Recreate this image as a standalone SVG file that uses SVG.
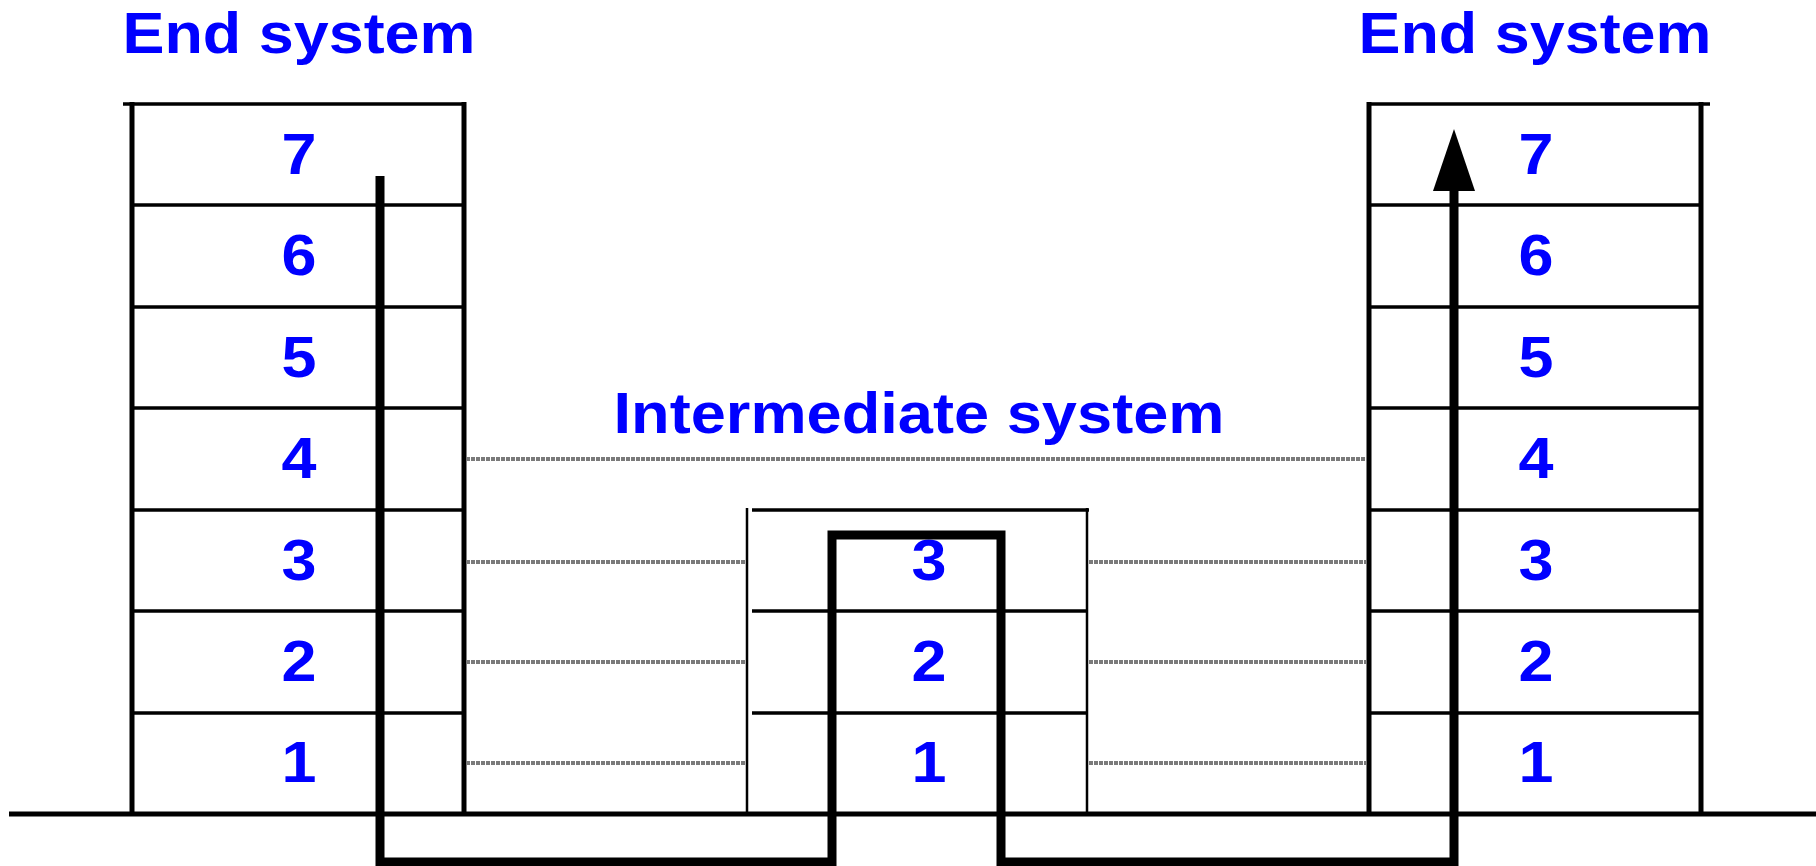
<svg xmlns="http://www.w3.org/2000/svg" width="1816" height="866" viewBox="0 0 1816 866">
  <style>
    .frame { stroke: #000; stroke-width: 5; fill: none; }
    .rule { stroke: #000; stroke-width: 3.5; fill: none; }
    .thin { stroke: #000; stroke-width: 2.5; fill: none; }
    .title { font-family: "Liberation Sans", Arial, sans-serif; font-weight: bold; font-size: 58px; fill: #0000ff; text-anchor: middle; }
    .num { font-family: "Liberation Sans", Arial, sans-serif; font-weight: bold; font-size: 57px; fill: #0000ff; text-anchor: middle; }
    .peer { stroke: #7a7a7a; stroke-width: 4; stroke-dasharray: 4 1; fill: none; }
    .path { stroke: #000; stroke-width: 9; fill: none; stroke-linejoin: miter; stroke-linecap: butt; }
  </style>
  <rect width="1816" height="866" fill="#fff"/>

  <!-- left end system: seven-layer stack -->
  <g id="end-system-left">
    <text class="title" x="299" y="53" textLength="353" lengthAdjust="spacingAndGlyphs">End system</text>
    <line class="frame" x1="132" y1="102" x2="132" y2="814"/>
    <line class="frame" x1="464" y1="102" x2="464" y2="814"/>
    <line class="rule" x1="123" y1="104" x2="464" y2="104"/>
    <line class="rule" x1="132" y1="205" x2="464" y2="205"/>
    <line class="rule" x1="132" y1="307" x2="464" y2="307"/>
    <line class="rule" x1="132" y1="408" x2="464" y2="408"/>
    <line class="rule" x1="132" y1="510" x2="464" y2="510"/>
    <line class="rule" x1="132" y1="611" x2="464" y2="611"/>
    <line class="rule" x1="132" y1="713" x2="464" y2="713"/>
    <text class="num" x="299" y="174" textLength="35" lengthAdjust="spacingAndGlyphs">7</text>
    <text class="num" x="299" y="275" textLength="35" lengthAdjust="spacingAndGlyphs">6</text>
    <text class="num" x="299" y="377" textLength="35" lengthAdjust="spacingAndGlyphs">5</text>
    <text class="num" x="299" y="478" textLength="35" lengthAdjust="spacingAndGlyphs">4</text>
    <text class="num" x="299" y="580" textLength="35" lengthAdjust="spacingAndGlyphs">3</text>
    <text class="num" x="299" y="681" textLength="35" lengthAdjust="spacingAndGlyphs">2</text>
    <text class="num" x="299" y="782" textLength="35" lengthAdjust="spacingAndGlyphs">1</text>
  </g>

  <!-- intermediate system: three-layer relay -->
  <g id="intermediate-system">
    <text class="title" x="919" y="433" textLength="611" lengthAdjust="spacingAndGlyphs">Intermediate system</text>
    <line class="thin" x1="747" y1="508" x2="747" y2="814"/>
    <line class="thin" x1="1087" y1="508" x2="1087" y2="814"/>
    <line class="rule" x1="752" y1="510" x2="1089" y2="510"/>
    <line class="rule" x1="752" y1="611" x2="1087" y2="611"/>
    <line class="rule" x1="752" y1="713" x2="1087" y2="713"/>
    <text class="num" x="929" y="580" textLength="35" lengthAdjust="spacingAndGlyphs">3</text>
    <text class="num" x="929" y="681" textLength="35" lengthAdjust="spacingAndGlyphs">2</text>
    <text class="num" x="929" y="782" textLength="35" lengthAdjust="spacingAndGlyphs">1</text>
  </g>

  <!-- right end system: seven-layer stack -->
  <g id="end-system-right">
    <text class="title" x="1535" y="53" textLength="353" lengthAdjust="spacingAndGlyphs">End system</text>
    <line class="frame" x1="1369" y1="102" x2="1369" y2="814"/>
    <line class="frame" x1="1701" y1="102" x2="1701" y2="814"/>
    <line class="rule" x1="1369" y1="104" x2="1710" y2="104"/>
    <line class="rule" x1="1369" y1="205" x2="1701" y2="205"/>
    <line class="rule" x1="1369" y1="307" x2="1701" y2="307"/>
    <line class="rule" x1="1369" y1="408" x2="1701" y2="408"/>
    <line class="rule" x1="1369" y1="510" x2="1701" y2="510"/>
    <line class="rule" x1="1369" y1="611" x2="1701" y2="611"/>
    <line class="rule" x1="1369" y1="713" x2="1701" y2="713"/>
    <text class="num" x="1536" y="174" textLength="35" lengthAdjust="spacingAndGlyphs">7</text>
    <text class="num" x="1536" y="275" textLength="35" lengthAdjust="spacingAndGlyphs">6</text>
    <text class="num" x="1536" y="377" textLength="35" lengthAdjust="spacingAndGlyphs">5</text>
    <text class="num" x="1536" y="478" textLength="35" lengthAdjust="spacingAndGlyphs">4</text>
    <text class="num" x="1536" y="580" textLength="35" lengthAdjust="spacingAndGlyphs">3</text>
    <text class="num" x="1536" y="681" textLength="35" lengthAdjust="spacingAndGlyphs">2</text>
    <text class="num" x="1536" y="782" textLength="35" lengthAdjust="spacingAndGlyphs">1</text>
  </g>

  <!-- physical medium -->
  <line id="medium" x1="9" y1="814" x2="1816" y2="814" stroke="#000" stroke-width="5"/>

  <g id="connectors">
    <!-- peer-to-peer protocol links -->
    <line class="peer" x1="466" y1="459" x2="1367" y2="459"/>
    <line class="peer" x1="466" y1="562" x2="745" y2="562"/>
    <line class="peer" x1="466" y1="662" x2="745" y2="662"/>
    <line class="peer" x1="466" y1="763" x2="745" y2="763"/>
    <line class="peer" x1="1089" y1="562" x2="1367" y2="562"/>
    <line class="peer" x1="1089" y1="662" x2="1367" y2="662"/>
    <line class="peer" x1="1089" y1="763" x2="1367" y2="763"/>
    <!-- data flow down, across the relay, and up -->
    <path class="path" d="M380 176 V862 H832 V535 H1001 V862 H1454 V190"/>
    <polygon points="1454,129 1433,191 1475,191" fill="#000"/>
  </g>
</svg>
